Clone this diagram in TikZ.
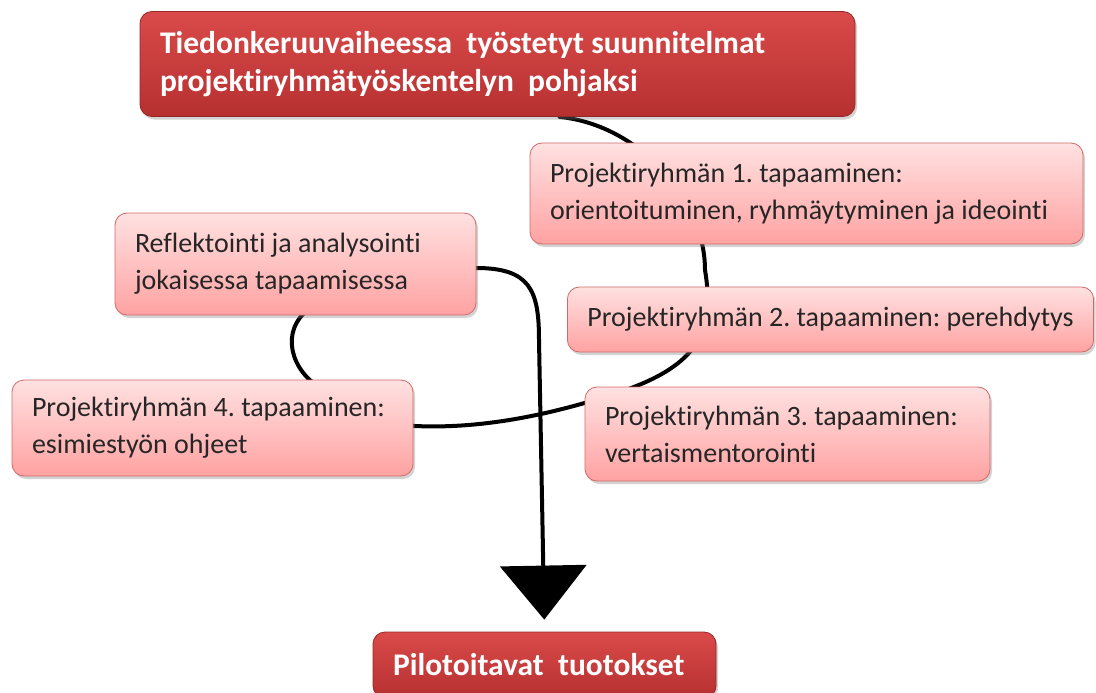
\documentclass[tikz,border=0pt]{standalone}
\usepackage{fontspec}
\setmainfont{Carlito}[Ligatures=NoCommon]
\usetikzlibrary{arrows.meta,shadows,backgrounds}

\definecolor{pinktop}{RGB}{255,225,225}
\definecolor{pinkbot}{RGB}{255,162,162}
\definecolor{pinkline}{RGB}{210,105,105}
\definecolor{redtop}{RGB}{218,74,74}
\definecolor{redbot}{RGB}{182,48,48}
\definecolor{redline}{RGB}{150,40,40}

\begin{document}
\frenchspacing
\hyphenpenalty=10000
\begin{tikzpicture}[x=1pt,y=-1pt,
  box/.style={rounded corners=12pt, inner xsep=20pt, inner ysep=0pt, align=flush left,
    line width=.8pt, drop shadow={opacity=.35, shadow xshift=2pt, shadow yshift=-3pt}},
  stage/.style={box, draw=pinkline, top color=pinktop, bottom color=pinkbot,
    text=black!85, font=\fontsize{28}{37}\selectfont},
  goal/.style={box, draw=redline, top color=redtop, bottom color=redbot,
    text=white, font=\fontsize{31.5}{38}\selectfont\bfseries},
  curve line/.style={line width=4pt, line cap=round}]
\useasboundingbox (0,0) rectangle (1096,693);

\node[goal, text width=675pt, minimum height=105pt] (plan) at (497.5,64)
  {Tiedonkeruuvaiheessa\ \ työstetyt suunnitelmat\\projektiryhmätyöskentelyn\ \ pohjaksi};
\node[stage, text width=513pt, minimum height=101pt] (tap1) at (806.5,193.5)
  {Projektiryhmän 1. tapaaminen:\\orientoituminen, ryhmäytyminen ja ideointi};
\node[stage, minimum width=525pt, minimum height=65pt] (tap2) at (830.5,319.5)
  {Projektiryhmän 2. tapaaminen: perehdytys};
\node[stage, text width=365pt, minimum height=94pt] (tap3) at (787.5,434)
  {Projektiryhmän 3. tapaaminen:\\vertaismentorointi};
\node[stage, text width=361pt, minimum height=96pt] (tap4) at (212.5,428)
  {Projektiryhmän 4. tapaaminen:\\esimiestyön ohjeet};
\node[stage, text width=321pt, minimum height=102pt] (refl) at (295.5,264)
  {Reflektointi ja analysointi\\jokaisessa tapaamisessa};
\node[goal, text width=303pt, minimum height=66pt] (pilot) at (544.5,665)
  {Pilotoitavat\ \ tuotokset};

% one line through all meetings, behind the boxes
\begin{scope}[on background layer]
\draw[curve line, -{Triangle[width=86pt,length=54pt]}, shorten >=12pt]
  ([xshift=62pt]plan.south) .. controls (640,125) and (705,200) .. (705,270)
  .. controls (715,330) and (700,365) .. (620,392)
  .. controls (560,412) and (480,432) .. (400,425)
  .. controls (340,420) and (330,405) .. (316,385)
  .. controls (288,365) and (280,325) .. (315,305)
  .. controls (350,285) and (420,268) .. (476,268)
  .. controls (530,268) and (539,290) .. (539,340)
  -- (pilot.north);
\end{scope}
\end{tikzpicture}
\end{document}
